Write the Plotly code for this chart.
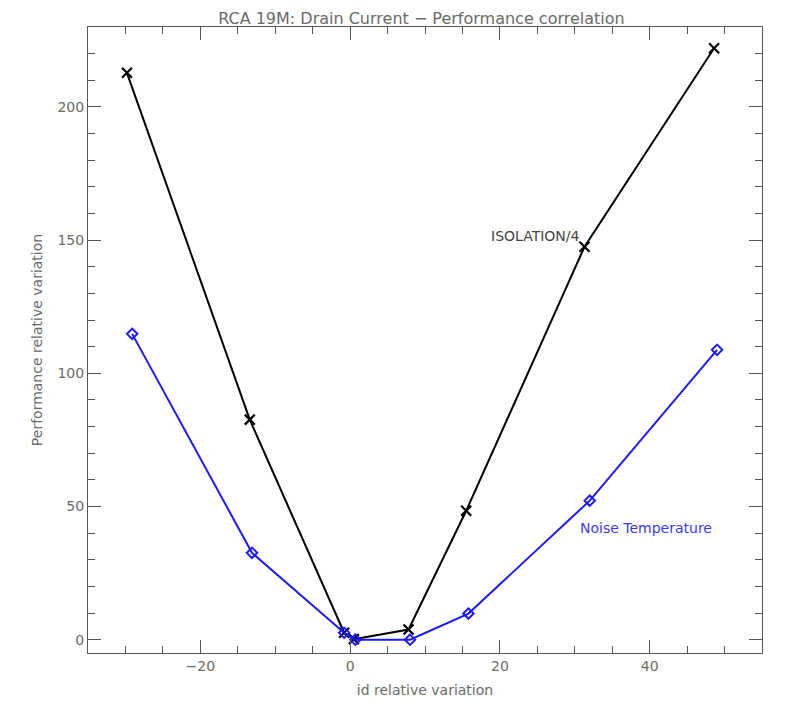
import plotly.graph_objects as go

iso_x = [-29.8, -13.4, -0.8, 0.5, 7.8, 15.5, 31.3, 48.6]
iso_y = [212.8, 82.6, 2.6, 0.2, 3.8, 48.4, 147.5, 222.0]
noise_x = [-29.1, -13.1, -0.8, 0.7, 8.0, 15.8, 32.0, 49.0]
noise_y = [114.8, 32.6, 2.6, 0.0, 0.0, 9.8, 52.2, 108.8]

font_main = "DejaVu Sans"
gray = "#6a6a6a"

fig = go.Figure()
fig.add_trace(go.Scatter(x=iso_x, y=iso_y, mode="lines+markers",
                         line=dict(color="black", width=2),
                         marker=dict(symbol="x-thin-open", size=10, color="black",
                                     line=dict(width=2.2, color="black")),
                         showlegend=False))
fig.add_trace(go.Scatter(x=noise_x, y=noise_y, mode="lines+markers",
                         line=dict(color="#1a1aff", width=2),
                         marker=dict(symbol="diamond-open", size=8, color="#1a1aff",
                                     line=dict(width=2, color="#1a1aff")),
                         showlegend=False))

fig.add_annotation(x=24.7, y=151.6, text="ISOLATION/4", showarrow=False,
                   xanchor="center", yanchor="middle",
                   font=dict(family=font_main, size=14, color="#444444"))
fig.add_annotation(x=39.5, y=42, text="Noise Temperature", showarrow=False,
                   xanchor="center", yanchor="middle",
                   font=dict(family=font_main, size=14, color="#3a3aff"))

axis_common = dict(showgrid=False, zeroline=False, showline=True, linecolor="#555555",
                   linewidth=1, mirror="ticks", ticks="inside", tickcolor="#555555",
                   ticklen=13, tickwidth=1,
                   tickfont=dict(family=font_main, size=14, color=gray))

fig.update_xaxes(range=[-35, 55], tick0=-20, dtick=20,
                 minor=dict(dtick=5, ticklen=7, ticks="inside", tickcolor="#555555"),
                 title=dict(text="id relative variation", standoff=12,
                            font=dict(family=font_main, size=14, color=gray)),
                 **axis_common)
fig.update_yaxes(range=[-5, 230], tick0=0, dtick=50,
                 minor=dict(dtick=10, ticklen=7, ticks="inside", tickcolor="#555555"),
                 title=dict(text="Performance relative variation", standoff=11,
                            font=dict(family=font_main, size=14, color=gray)),
                 **axis_common)

fig.update_layout(width=786, height=709,
                  margin=dict(l=80, r=32, t=19, b=64),
                  plot_bgcolor="white", paper_bgcolor="white",
                  title=dict(text="RCA 19M: Drain Current \u2212 Performance correlation",
                             x=0.526, xanchor="center", y=0.986, yanchor="middle",
                             font=dict(family=font_main, size=16, color=gray)))

fig.write_html("out.html")
